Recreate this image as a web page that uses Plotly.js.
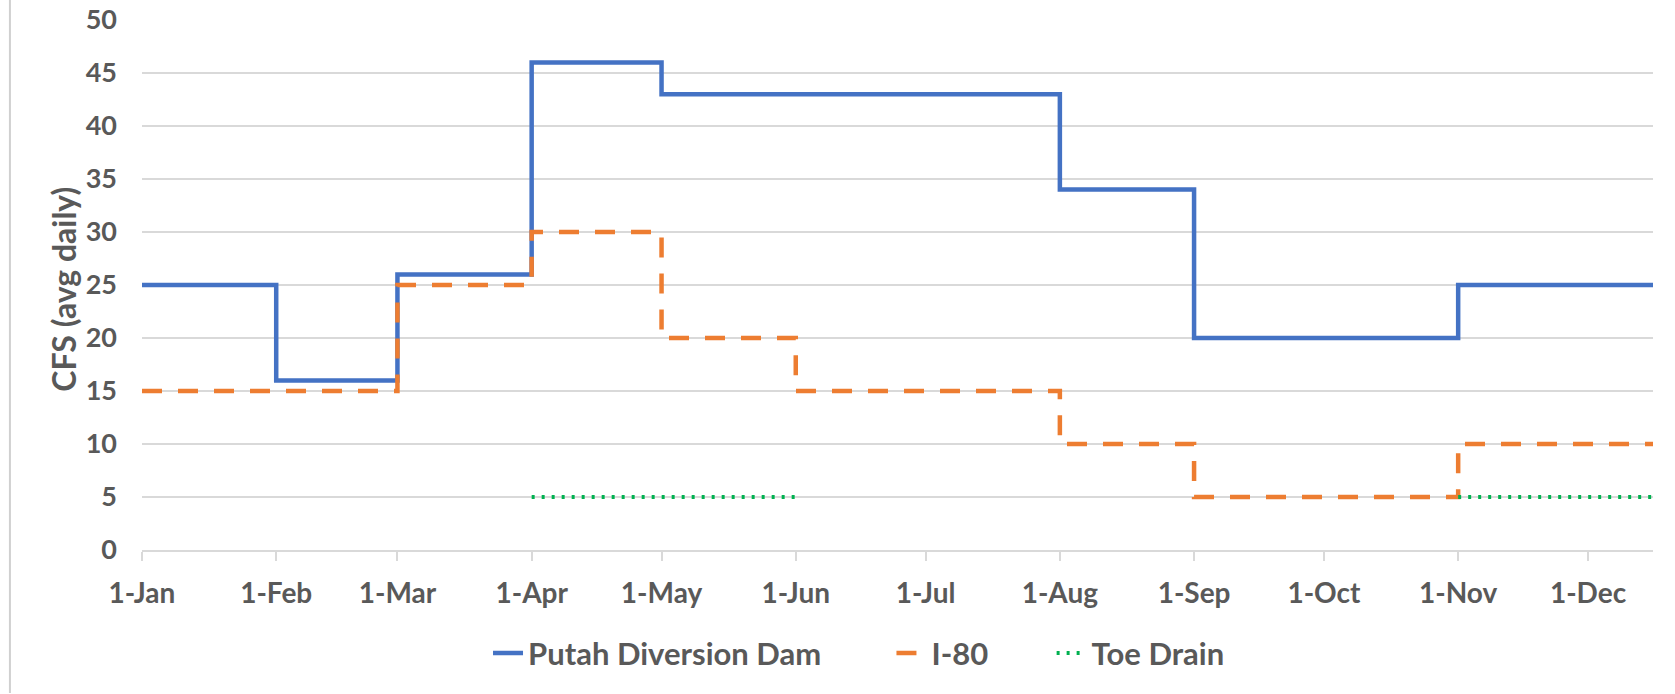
<!DOCTYPE html>
<html>
<head>
<meta charset="utf-8">
<script src="https://cdn.plot.ly/plotly-3.0.1.min.js"></script>
<style>html,body{margin:0;padding:0;background:#fff;}#chart{width:1675px;height:694px;}</style>
</head>
<body>
<div id="chart"></div>
<script>
// Step-change dates (first of each month) and the axis end
var stepDates = ['2019-01-01','2019-02-01','2019-03-01','2019-04-01','2019-05-01','2019-06-01',
                 '2019-07-01','2019-08-01','2019-09-01','2019-10-01','2019-11-01','2019-12-01','2019-12-16'];
var putahValues = [25, 16, 26, 46, 43, 43, 43, 34, 20, 20, 25, 25, 25];
var i80Values   = [15, 15, 25, 30, 20, 15, 15, 10, 5, 5, 10, 10, 10];
var toeValues   = [null, null, null, 5, 5, 5, null, null, null, null, 5, 5, 5];
var tickDates  = ['2019-01-01','2019-02-01','2019-03-01','2019-04-01','2019-05-01','2019-06-01',
                  '2019-07-01','2019-08-01','2019-09-01','2019-10-01','2019-11-01','2019-12-01'];
var tickLabels = ['1-Jan','1-Feb','1-Mar','1-Apr','1-May','1-Jun','1-Jul','1-Aug','1-Sep','1-Oct','1-Nov','1-Dec'];
var seriesNames = ['Putah Diversion Dam', 'I-80', 'Toe Drain'];
var yTitle = 'CFS (avg daily)';

var fontFam = 'Lato, "Open Sans", sans-serif';
var txtCol = '#595959';

var traces = [
  {x: stepDates, y: putahValues, name: seriesNames[0], mode: 'lines', legend: 'legend',
   line: {shape: 'hv', color: '#4472C4', width: 4.5}},
  {x: stepDates, y: i80Values, name: seriesNames[1], mode: 'lines', legend: 'legend2',
   line: {shape: 'hv', color: '#ED7D31', width: 4.5, dash: '20px,16px'}},
  {x: stepDates, y: toeValues, name: seriesNames[2], mode: 'lines', connectgaps: false, legend: 'legend3',
   line: {shape: 'hv', color: '#00B050', width: 4, dash: '3px,7px'}}
];

function legendAt(xp) {
  return {orientation: 'h', x: xp, xanchor: 'left', y: -0.195, yanchor: 'middle',
          bgcolor: 'rgba(0,0,0,0)',
          font: {family: fontFam, size: 31, color: txtCol, weight: 'bold'}};
}

var layout = {
  width: 1675, height: 694,
  margin: {l: 142, r: 22, t: 20, b: 144},
  paper_bgcolor: '#ffffff', plot_bgcolor: '#ffffff',
  showlegend: true,
  legend: legendAt(0.229),
  legend2: legendAt(0.496),
  legend3: legendAt(0.602),
  xaxis: {type: 'date', range: ['2019-01-01', '2019-12-16'],
          tickmode: 'array', tickvals: tickDates, ticktext: tickLabels,
          showgrid: false, showline: true, linecolor: '#d9d9d9', linewidth: 2,
          ticks: 'outside', ticklen: 9, tickcolor: '#d9d9d9', tickwidth: 2,
          ticklabelstandoff: 8,
          tickfont: {family: fontFam, size: 28, color: txtCol, weight: 'bold'}, zeroline: false},
  yaxis: {range: [0, 50], dtick: 5, showgrid: true, gridcolor: '#d9d9d9', gridwidth: 2,
          zeroline: false, showline: false, ticks: '',
          ticklabelstandoff: 24,
          tickfont: {family: fontFam, size: 27, color: txtCol, weight: 'bold'}},
  annotations: [
    {text: yTitle, xref: 'paper', yref: 'paper', x: -0.052, y: 0.492,
     xanchor: 'center', yanchor: 'middle', textangle: -90, showarrow: false,
     font: {family: fontFam, size: 32, color: txtCol, weight: 'bold'}}
  ],
  shapes: [
    {type: 'line', xref: 'paper', yref: 'paper', x0: -0.0874, x1: -0.0874, y0: -0.27, y1: 1.04,
     line: {color: '#d0d0d0', width: 2}}
  ]
};

Plotly.newPlot('chart', traces, layout, {displayModeBar: false, staticPlot: true});
</script>
</body>
</html>
